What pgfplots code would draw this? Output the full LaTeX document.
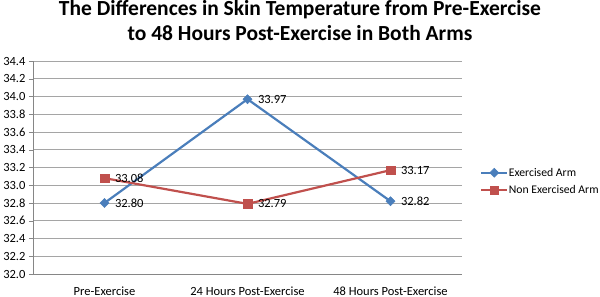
\documentclass[border=0pt]{standalone}
\usepackage{pgfplots}
\pgfplotsset{compat=1.18}
\usepackage{fontspec}
\setmainfont{Carlito}
\definecolor{exblue}{RGB}{74,126,187}
\definecolor{nonred}{RGB}{192,80,77}
\definecolor{gridgray}{RGB}{165,165,165}
\definecolor{axisgray}{RGB}{134,134,134}
\begin{document}
\begin{tikzpicture}
\path[use as bounding box] (-33bp,-23bp) rectangle (567bp,274bp);
\begin{axis}[
  scale only axis,
  width=429bp, height=213bp,
  xmin=-0.5, xmax=2.5,
  ymin=32.0, ymax=34.4,
  ytick={32.0,32.2,...,34.41},
  yticklabel style={/pgf/number format/fixed,/pgf/number format/fixed zerofill,/pgf/number format/precision=1,font=\fontsize{12.5bp}{14bp}\selectfont},
  /pgf/number format/assume math mode=true,
  xtick={0,1,2},
  xticklabels={Pre-Exercise,24 Hours Post-Exercise,48 Hours Post-Exercise},
  xticklabel style={font=\fontsize{12.5bp}{14bp}\selectfont, yshift=-5bp},
  major x tick style={draw=none},
  extra x ticks={-0.5,0.5,1.5,2.5},
  extra x tick labels={},
  extra x tick style={major tick length=5bp, tick style={draw=axisgray}, tick align=outside, grid=none},
  ymajorgrids,
  grid style={gridgray, line width=0.8pt},
  axis x line*=bottom,
  axis y line*=left,
  axis line style={axisgray, line width=0.8pt},
  tick align=outside,
  major tick length=4bp,
  ytick style={axisgray},
  tick pos=left,
  legend style={at={(1.042,0.434)}, anchor=west, draw=none, fill=none, font=\fontsize{11.7bp}{14bp}\selectfont, row sep=7bp, inner sep=0pt, nodes={inner sep=0.5bp}},
  legend cell align=left,
  legend image code/.code={
    \draw[#1, mark=none] (0bp,0bp) -- (26bp,0bp);
    \path[#1, mark repeat=1] plot coordinates {(13bp,0bp)};
  },
  nodes near coords,
  nodes near coords style={font=\fontsize{12.5bp}{14bp}\selectfont, anchor=west, xshift=7bp, text=black, /pgf/number format/fixed, /pgf/number format/fixed zerofill, /pgf/number format/precision=2},
]
\addplot[exblue, line width=2.2pt, mark=diamond*, mark size=4.5bp, mark options={fill=exblue, xscale=1.333, line width=0.5pt}] coordinates {(0,32.80) (1,33.97) (2,32.82)};
\addlegendentry{Exercised Arm}
\addplot[nonred, line width=2.2pt, mark=square*, mark size=4.3bp, mark options={fill=nonred, line width=0.5pt}] coordinates {(0,33.08) (1,32.79) (2,33.17)};
\addlegendentry{Non Exercised Arm}
\end{axis}
\node[font=\bfseries\fontsize{21.5bp}{25bp}\selectfont, align=center] at (267bp,253bp) {The Differences in Skin Temperature from Pre-Exercise\\to 48 Hours Post-Exercise in Both Arms};
\end{tikzpicture}
\end{document}
